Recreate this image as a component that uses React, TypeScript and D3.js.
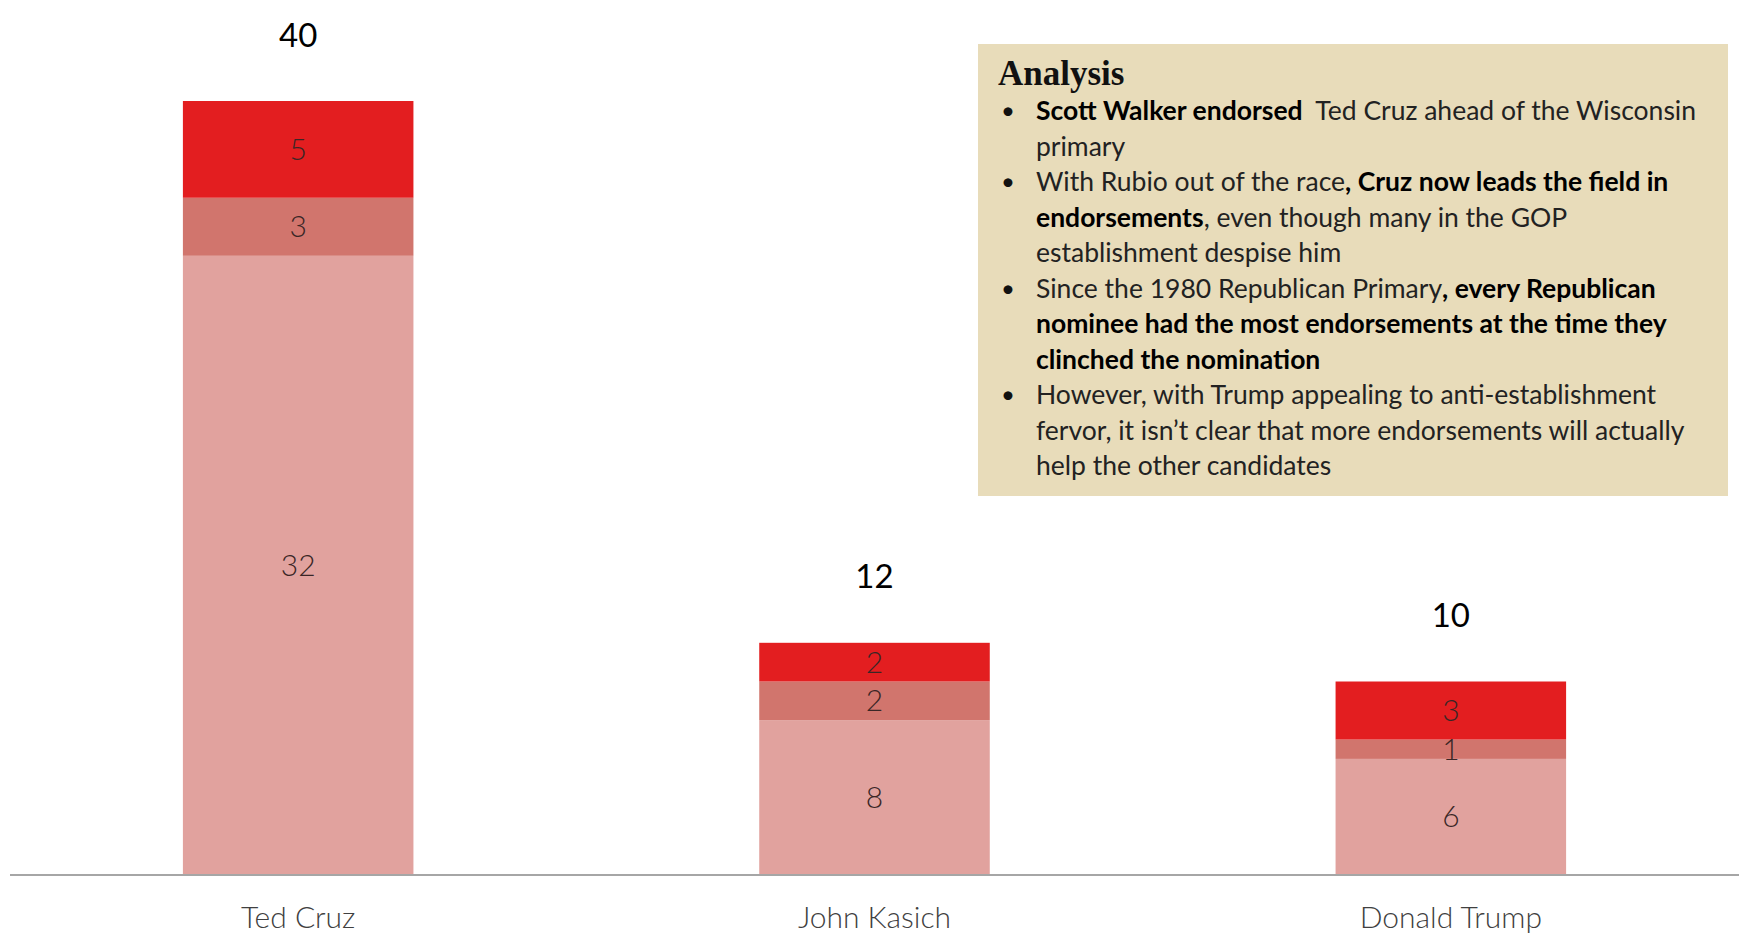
import React from "react";
import * as d3 from "d3";

const W = 1739;
const H = 936;

const categories = ["Ted Cruz", "John Kasich", "Donald Trump"];
const seriesKeys = ["base", "mid", "top"];
const baseValues = [32, 8, 6];
const midValues = [3, 2, 1];
const topValues = [5, 2, 3];
const seriesColors = ["#E1A29E", "#D1756D", "#E31E20"];

const analysisTitle = "Analysis";
type Seg = { t: string; b?: boolean };
const analysisLines: { bullet: boolean; segs: Seg[] }[] = [
  { bullet: true, segs: [{ t: "Scott Walker endorsed", b: true }, { t: "  Ted Cruz ahead of the Wisconsin" }] },
  { bullet: false, segs: [{ t: "primary" }] },
  { bullet: true, segs: [{ t: "With Rubio out of the race" }, { t: ", Cruz now leads the field in", b: true }] },
  { bullet: false, segs: [{ t: "endorsements", b: true }, { t: ", even though many in the GOP" }] },
  { bullet: false, segs: [{ t: "establishment despise him" }] },
  { bullet: true, segs: [{ t: "Since the 1980 Republican Primary" }, { t: ", every Republican", b: true }] },
  { bullet: false, segs: [{ t: "nominee had the most endorsements at the time they", b: true }] },
  { bullet: false, segs: [{ t: "clinched the nomination", b: true }] },
  { bullet: true, segs: [{ t: "However, with Trump appealing to anti-establishment" }] },
  { bullet: false, segs: [{ t: "fervor, it isn\u2019t clear that more endorsements will actually" }] },
  { bullet: false, segs: [{ t: "help the other candidates" }] },
];

export default function App() {
  const rows = categories.map((c, i) => ({
    cat: c,
    base: baseValues[i],
    mid: midValues[i],
    top: topValues[i],
  }));
  const stack = d3.stack<any>().keys(seriesKeys)(rows);
  const totals = rows.map((r) => r.base + r.mid + r.top);

  const x = d3.scaleBand().domain(categories).range([10, W]).paddingInner(0.6).paddingOuter(0.3);
  const y = d3.scaleLinear().domain([0, 40]).range([875, 101]);

  const font = "Lato, 'Open Sans', sans-serif";
  const boxX = 978, boxY = 44, boxW = 750, boxH = 452;

  return (
    <svg width={W} height={H} style={{ position: "absolute", left: 0, top: 0, background: "#fff" }}>
      {stack.map((s, si) => (
        <g key={s.key} fill={seriesColors[si]}>
          {s.map((d, i) => (
            <rect
              key={i}
              x={x(categories[i])!}
              width={x.bandwidth()}
              y={y(d[1])}
              height={y(d[0]) - y(d[1])}
            />
          ))}
        </g>
      ))}
      {stack.map((s) =>
        s.map((d, i) => (
          <text
            key={s.key + i}
            x={x(categories[i])! + x.bandwidth() / 2}
            y={(y(d[0]) + y(d[1])) / 2}
            dy="0.35em"
            textAnchor="middle"
            fontFamily={font}
            fontWeight={300}
            fontSize={30}
            fill="#3a2626"
          >
            {d[1] - d[0]}
          </text>
        ))
      )}
      {totals.map((t, i) => (
        <text
          key={"t" + i}
          x={x(categories[i])! + x.bandwidth() / 2}
          y={y(t) - 66}
          dy="0.35em"
          textAnchor="middle"
          fontFamily={font}
          fontSize={33}
          fill="#000"
        >
          {t}
        </text>
      ))}
      <line x1={10} x2={W} y1={y(0)} y2={y(0)} stroke="#a6a6a6" strokeWidth={2} />
      {categories.map((c) => (
        <text
          key={c}
          x={x(c)! + x.bandwidth() / 2}
          y={917}
          dy="0.35em"
          textAnchor="middle"
          fontFamily={font}
          fontWeight={300}
          fontSize={30}
          fill="#404040"
        >
          {c}
        </text>
      ))}
      <rect x={boxX} y={boxY} width={boxW} height={boxH} fill="#E8DCBA" />
      <text x={998} y={73} dy="0.35em" fontFamily="'Liberation Serif', 'DejaVu Serif', serif" fontWeight="bold" fontSize={35} fill="#111">
        {analysisTitle}
      </text>
      {analysisLines.map((ln, i) => {
        const ly = 111 + i * 35.5;
        return (
          <g key={i}>
            {ln.bullet && (
              <text x={1001} y={ly} dy="0.35em" fontFamily={font} fontSize={24} fill="#111">
                {"\u2022"}
              </text>
            )}
            <text x={1036} y={ly} dy="0.35em" fontFamily={font} fontSize={26.5} fill="#1a1a1a" xmlSpace="preserve" style={{ whiteSpace: "pre" }}>
              {ln.segs.map((s, j) => (
                <tspan key={j} fontWeight={s.b ? 700 : 400} fill={s.b ? "#000" : "#222"}>
                  {s.t}
                </tspan>
              ))}
            </text>
          </g>
        );
      })}
    </svg>
  );
}
